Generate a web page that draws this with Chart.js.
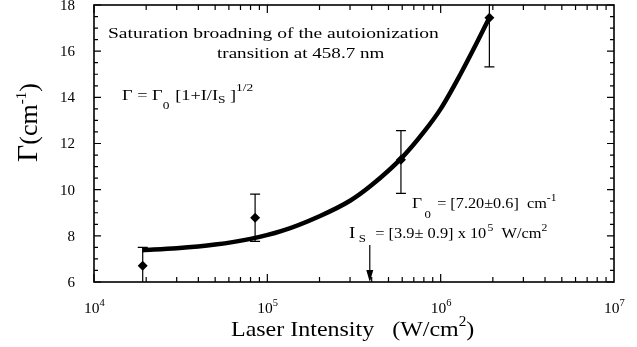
<!DOCTYPE html>
<html lang="en">
<head>
    <meta charset="UTF-8">
    <title>Saturation broadening</title>
    <style>
        body {
            margin: 0;
            padding: 0;
            background: #fff;
        }
        #wrap {
            width: 637px;
            height: 347px;
        }
    </style>
</head>
<body>
    <div id="wrap"><canvas id="chart" width="637" height="347"></canvas></div>

    <script src="https://cdn.jsdelivr.net/npm/chart.js"></script>
    <script>
        const intensity = [1.91e4, 8.5e4, 5.9e5, 1.91e6];
        const gamma = [6.70, 8.78, 11.30, 17.45];
        const errUp = [0.80, 1.03, 1.26, 2.2];
        const errDown = [0.85, 1.02, 1.46, 2.13];

        // fitted curve
        const fitX = [1.9e4, 3e4, 5e4, 8e4, 1.2e5, 2e5, 3e5, 4e5, 6e5, 8e5, 1e6, 1.3e6, 1.6e6, 1.91e6];
        const fitY = [7.38, 7.46, 7.62, 7.87, 8.2, 8.85, 9.52, 10.2, 11.4, 12.5, 13.5, 15.0, 16.3, 17.45];

        const xTicks = [1e4, 1e5, 1e6, 1e7];
        const xTickExp = ['4', '5', '6', '7'];
        const yTicks = [6, 8, 10, 12, 14, 16, 18];
        const satIntensity = 3.9e5;

        const SERIF = '"Liberation Serif", "DejaVu Serif", serif';

        function font(size) {
            return size + 'px ' + SERIF;
        }

        // draws pieces of text one after another, each with its own size and vertical shift;
        // sx stretches the whole run horizontally (the scanned lettering is wide)
        function richText(ctx, x, y, parts, sx) {
            sx = sx || 1;
            ctx.save();
            ctx.translate(x, y);
            ctx.scale(sx, 1);
            ctx.textAlign = 'left';
            ctx.textBaseline = 'alphabetic';
            let cx = 0;
            parts.forEach(p => {
                ctx.font = font(p.size);
                cx += p.dx || 0;
                ctx.fillText(p.t, cx, p.dy || 0);
                cx += ctx.measureText(p.t).width;
            });
            ctx.restore();
            return x + cx * sx;
        }

        const framePlugin = {
            id: 'frame',
            afterDatasetsDraw(chart) {
                const ctx = chart.ctx;
                const xs = chart.scales.x;
                const ys = chart.scales.y;
                const a = chart.chartArea;
                ctx.save();
                ctx.strokeStyle = '#000';
                ctx.fillStyle = '#000';

                // error bars
                ctx.save();
                ctx.beginPath();
                ctx.rect(a.left, a.top - 1, a.right - a.left, a.bottom - a.top + 1);
                ctx.clip();
                ctx.lineWidth = 1.2;
                intensity.forEach((v, i) => {
                    const px = xs.getPixelForValue(v);
                    const top = ys.getPixelForValue(gamma[i] + errUp[i]);
                    const bot = ys.getPixelForValue(gamma[i] - errDown[i]);
                    ctx.beginPath();
                    ctx.moveTo(px, top);
                    ctx.lineTo(px, bot);
                    ctx.moveTo(px - 5, top);
                    ctx.lineTo(px + 5, top);
                    ctx.moveTo(px - 5, bot);
                    ctx.lineTo(px + 5, bot);
                    ctx.stroke();
                });
                ctx.restore();

                // frame
                ctx.lineWidth = 1.6;
                ctx.strokeRect(a.left, a.top, a.right - a.left, a.bottom - a.top);

                // inward ticks
                ctx.lineWidth = 1.2;
                ctx.beginPath();
                for (let d = 4; d < 7; d++) {
                    for (let m = 1; m < 10; m++) {
                        const px = xs.getPixelForValue(m * Math.pow(10, d));
                        const len = m === 1 ? 8 : 5;
                        ctx.moveTo(px, a.bottom);
                        ctx.lineTo(px, a.bottom - len);
                        ctx.moveTo(px, a.top);
                        ctx.lineTo(px, a.top + len);
                    }
                }
                for (let v = 6; v <= 18; v += 0.5) {
                    const py = ys.getPixelForValue(v);
                    const len = v % 2 === 0 ? 7 : 4;
                    ctx.moveTo(a.left, py);
                    ctx.lineTo(a.left + len, py);
                    ctx.moveTo(a.right, py);
                    ctx.lineTo(a.right - len, py);
                }
                ctx.stroke();

                // y tick labels
                ctx.font = font(15);
                ctx.textAlign = 'right';
                ctx.textBaseline = 'middle';
                yTicks.forEach(v => {
                    ctx.fillText(String(v), a.left - 19, ys.getPixelForValue(v) + 1);
                });

                // x tick labels 10^n
                xTicks.forEach((v, i) => {
                    const px = xs.getPixelForValue(v);
                    richText(ctx, px - 10, a.bottom + 31, [
                        { t: '10', size: 15.5 },
                        { t: xTickExp[i], size: 10.5, dy: -7 }
                    ]);
                });

                // axis titles
                richText(ctx, 231, 336, [
                    { t: 'Laser Intensity   (W/cm', size: 22 },
                    { t: '2', size: 14, dy: -10 },
                    { t: ')', size: 22 }
                ], 1.09);
                ctx.save();
                ctx.translate(37, 162);
                ctx.rotate(-Math.PI / 2);
                richText(ctx, 0, 0, [
                    { t: 'Γ', size: 30 },
                    { t: '(cm', size: 26 },
                    { t: '-1', size: 15, dy: -11 },
                    { t: ')', size: 26 }
                ]);
                ctx.restore();

                // annotations
                richText(ctx, 108, 38, [{ t: 'Saturation broadning of the autoionization', size: 15.5 }], 1.26);
                richText(ctx, 217, 58, [{ t: 'transition at 458.7 nm', size: 15.5 }], 1.23);
                richText(ctx, 122, 100, [
                    { t: 'Γ = Γ', size: 15 },
                    { t: '0', size: 11, dy: 9 },
                    { t: ' [1+I/I', size: 15, dx: 1 },
                    { t: 'S', size: 11, dy: 3 },
                    { t: ' ]', size: 15 },
                    { t: '1/2', size: 11, dy: -9 }
                ], 1.22);
                richText(ctx, 412, 208, [
                    { t: 'Γ', size: 15 },
                    { t: '0', size: 11, dy: 10, dx: 2 },
                    { t: ' = [7.20±0.6]  cm', size: 14, dx: 2 },
                    { t: '-1', size: 10, dy: -7 }
                ], 1.16);
                richText(ctx, 349, 238, [
                    { t: 'I', size: 16 },
                    { t: 'S', size: 11, dy: 4, dx: 3 },
                    { t: '  = [3.9± 0.9] x 10', size: 14, dx: 1 },
                    { t: '5', size: 10, dy: -7, dx: 1 },
                    { t: '  W/cm', size: 14 },
                    { t: '2', size: 10, dy: -7 }
                ], 1.17);

                // arrow at the saturation intensity
                const ax = xs.getPixelForValue(satIntensity);
                ctx.lineWidth = 1.2;
                ctx.beginPath();
                ctx.moveTo(ax, 245);
                ctx.lineTo(ax, a.bottom - 2);
                ctx.stroke();
                ctx.beginPath();
                ctx.moveTo(ax - 3.5, a.bottom - 12);
                ctx.lineTo(ax, a.bottom);
                ctx.lineTo(ax + 3.5, a.bottom - 12);
                ctx.closePath();
                ctx.fill();

                ctx.restore();
            }
        };

        const ctx = document.getElementById('chart').getContext('2d');
        new Chart(ctx, {
            type: 'scatter',
            data: {
                datasets: [
                    {
                        label: 'fit',
                        data: fitX.map((x, i) => ({ x: x, y: fitY[i] })),
                        showLine: true,
                        borderColor: '#000',
                        borderWidth: 4.5,
                        pointRadius: 0,
                        cubicInterpolationMode: 'monotone',
                        fill: false
                    },
                    {
                        label: 'data',
                        data: intensity.map((x, i) => ({ x: x, y: gamma[i] })),
                        pointStyle: 'rectRot',
                        pointRadius: 5,
                        backgroundColor: '#000',
                        borderColor: '#000',
                        borderWidth: 0,
                        showLine: false
                    }
                ]
            },
            options: {
                responsive: false,
                animation: false,
                devicePixelRatio: 1,
                layout: {
                    padding: { left: 94, right: 23, top: 4, bottom: 65 }
                },
                plugins: {
                    legend: { display: false },
                    tooltip: { enabled: false }
                },
                scales: {
                    x: {
                        type: 'logarithmic',
                        min: 1e4,
                        max: 1e7,
                        display: false
                    },
                    y: {
                        type: 'linear',
                        min: 6,
                        max: 18,
                        display: false
                    }
                }
            },
            plugins: [framePlugin]
        });
    </script>
</body>
</html>
